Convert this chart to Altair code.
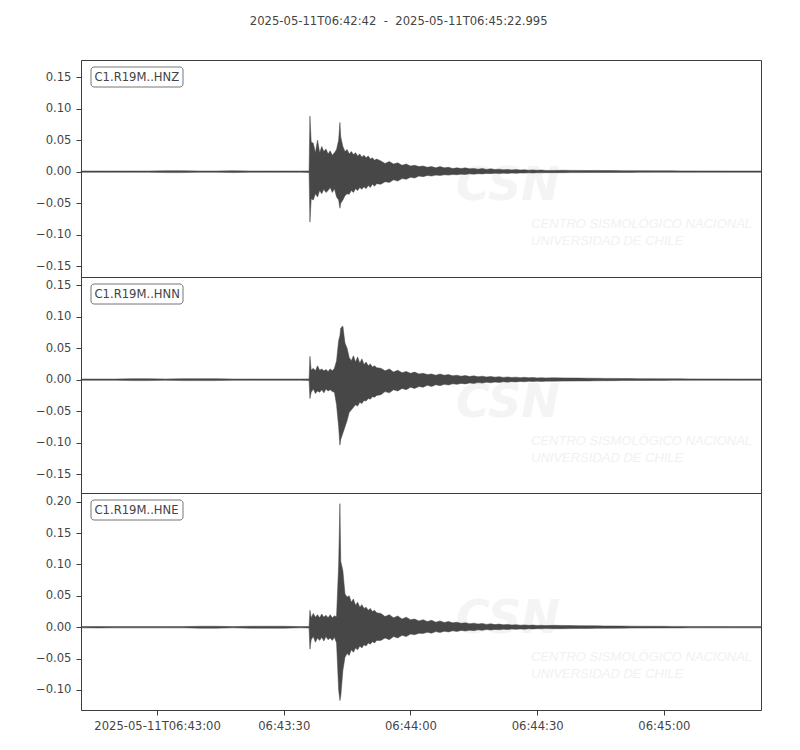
import pandas as pd
import altair as alt

TITLE = "2025-05-11T06:42:42\u00a0\u00a0-\u00a0\u00a02025-05-11T06:45:22.995"
CHANNELS = ["C1.R19M..HNZ", "C1.R19M..HNN", "C1.R19M..HNE"]
WATERMARK = ["CSN", "CENTRO SISMOLÓGICO NACIONAL", "UNIVERSIDAD DE CHILE"]

# seconds after 06:42:42, min/max envelope of each trace
T = [0, 4, 8, 12, 16, 20, 24, 28, 32, 36, 40, 44, 48, 52, 54,
     54.2, 54.5, 55, 55.5, 56, 56.5, 57, 57.5, 58, 58.5, 59, 59.5, 60, 60.5, 61,
     61.3, 61.5, 62, 62.5, 63, 63.5, 64, 64.5, 65, 65.5, 66, 66.5, 67, 67.5, 68, 68.5, 69, 69.5, 70,
     71, 72, 73, 74, 75, 76, 77, 78, 79, 80, 81, 82, 83, 84, 85, 86, 87, 88, 89, 90,
     91, 92, 93, 94, 95, 96, 97, 98, 99, 100, 101, 102, 103, 104, 105, 106, 107, 108, 109, 110,
     112, 114, 116, 118, 120, 122, 124, 126, 128, 130, 132, 134, 136, 138, 140, 142, 144, 146,
     148, 150, 152, 154, 156, 158, 160, 160.99]

HNZ_MAX = [0.001, 0.001, 0.001, 0.001, 0.001, 0.0015, 0.0015, 0.001, 0.001, 0.0015, 0.001, 0.001, 0.001, 0.001, 0.0012,
           0.088, 0.047, 0.045, 0.030, 0.050, 0.030, 0.040, 0.032, 0.036, 0.028, 0.033, 0.026, 0.030, 0.035, 0.050,
           0.078, 0.055, 0.040, 0.032, 0.035, 0.028, 0.032, 0.027, 0.030, 0.025, 0.028, 0.023, 0.026, 0.022, 0.025, 0.020, 0.022, 0.018, 0.020,
           0.017, 0.013, 0.016, 0.012, 0.014, 0.010, 0.012, 0.009, 0.010, 0.008,
           0.009, 0.007, 0.008, 0.006, 0.008, 0.006, 0.007, 0.005, 0.006, 0.005,
           0.006, 0.0045, 0.005, 0.004, 0.005, 0.0035, 0.0045, 0.0035, 0.004, 0.003,
           0.0035, 0.0028, 0.0033, 0.0026, 0.003, 0.0024, 0.0028, 0.0022, 0.0026, 0.002,
           0.002, 0.0022, 0.002, 0.002, 0.0018, 0.002, 0.0018, 0.0017, 0.0016, 0.0015,
           0.0015, 0.0014, 0.0014, 0.0013, 0.0013, 0.0012, 0.0012, 0.0012, 0.0011, 0.0011,
           0.0011, 0.001, 0.001, 0.001, 0.001, 0.001]
HNZ_MIN = [-0.001, -0.001, -0.001, -0.001, -0.001, -0.0015, -0.0015, -0.001, -0.001, -0.0015, -0.001, -0.001, -0.001, -0.001, -0.0012,
           -0.080, -0.043, -0.045, -0.035, -0.040, -0.030, -0.035, -0.028, -0.033, -0.030, -0.025, -0.033, -0.027, -0.040, -0.045,
           -0.058, -0.050, -0.045, -0.038, -0.035, -0.036, -0.030, -0.033, -0.027, -0.030, -0.025, -0.028, -0.024, -0.027, -0.022, -0.025, -0.020, -0.023, -0.019,
           -0.020, -0.016, -0.017, -0.013, -0.015, -0.011, -0.012, -0.009, -0.010, -0.007,
           -0.008, -0.006, -0.007, -0.0055, -0.006, -0.005, -0.0055, -0.0045, -0.005, -0.004,
           -0.0045, -0.0035, -0.004, -0.0032, -0.0036, -0.0028, -0.0032, -0.0026, -0.003, -0.0024,
           -0.0028, -0.0022, -0.0026, -0.002, -0.0023, -0.0019, -0.0021, -0.0017, -0.0019, -0.0016,
           -0.0016, -0.0016, -0.0015, -0.0015, -0.0014, -0.0014, -0.0013, -0.0013, -0.0012, -0.0012,
           -0.0011, -0.0011, -0.001, -0.001, -0.001, -0.001, -0.001, -0.001, -0.001, -0.001,
           -0.001, -0.001, -0.001, -0.001, -0.001, -0.001]

HNN_MAX = [0.001, 0.001, 0.001, 0.0015, 0.0015, 0.001, 0.0015, 0.0015, 0.0015, 0.001, 0.001, 0.001, 0.001, 0.001, 0.0012,
           0.037, 0.015, 0.018, 0.014, 0.022, 0.015, 0.017, 0.014, 0.016, 0.013, 0.017, 0.014, 0.018, 0.030, 0.062,
           0.070, 0.082, 0.085, 0.058, 0.050, 0.035, 0.030, 0.038, 0.028, 0.036, 0.026, 0.033, 0.024, 0.028, 0.022, 0.025, 0.020, 0.022, 0.019,
           0.018, 0.014, 0.017, 0.012, 0.015, 0.011, 0.013, 0.010, 0.012, 0.009,
           0.010, 0.008, 0.009, 0.007, 0.009, 0.007, 0.008, 0.006, 0.007, 0.0055,
           0.0065, 0.005, 0.006, 0.0045, 0.0055, 0.0042, 0.005, 0.004, 0.0047, 0.0036,
           0.0043, 0.0034, 0.004, 0.0032, 0.0037, 0.003, 0.0034, 0.0028, 0.0032, 0.0027,
           0.003, 0.0028, 0.0026, 0.0025, 0.0023, 0.0022, 0.002, 0.002, 0.0018, 0.0017,
           0.0016, 0.0015, 0.0015, 0.0014, 0.0013, 0.0013, 0.0012, 0.0012, 0.0011, 0.0011,
           0.0011, 0.001, 0.001, 0.001, 0.001, 0.001]
HNN_MIN = [-0.001, -0.001, -0.001, -0.0015, -0.0015, -0.001, -0.0015, -0.0015, -0.0015, -0.001, -0.001, -0.001, -0.001, -0.001, -0.0012,
           -0.030, -0.020, -0.015, -0.022, -0.018, -0.020, -0.016, -0.021, -0.015, -0.018, -0.016, -0.019, -0.020, -0.040, -0.075,
           -0.104, -0.095, -0.085, -0.075, -0.065, -0.052, -0.048, -0.044, -0.040, -0.042, -0.036, -0.038, -0.033, -0.034, -0.030, -0.031, -0.027, -0.028, -0.025,
           -0.024, -0.019, -0.021, -0.016, -0.018, -0.014, -0.016, -0.012, -0.014, -0.011,
           -0.012, -0.009, -0.011, -0.008, -0.0095, -0.0075, -0.0085, -0.0065, -0.0075, -0.006,
           -0.0068, -0.0052, -0.006, -0.0047, -0.0055, -0.0042, -0.005, -0.0038, -0.0045, -0.0035,
           -0.004, -0.0032, -0.0037, -0.0029, -0.0033, -0.0027, -0.003, -0.0025, -0.0028, -0.0024,
           -0.0024, -0.0023, -0.0022, -0.002, -0.002, -0.0018, -0.0017, -0.0016, -0.0015, -0.0014,
           -0.0013, -0.0013, -0.0012, -0.0012, -0.0011, -0.0011, -0.001, -0.001, -0.001, -0.001,
           -0.001, -0.001, -0.001, -0.001, -0.001, -0.001]

HNE_MAX = [0.001, 0.0012, 0.001, 0.001, 0.001, 0.001, 0.001, 0.0015, 0.0015, 0.001, 0.0015, 0.0015, 0.0015, 0.001, 0.0012,
           0.027, 0.015, 0.022, 0.016, 0.020, 0.015, 0.021, 0.016, 0.019, 0.015, 0.020, 0.015, 0.018, 0.017, 0.100,
           0.197, 0.105, 0.090, 0.053, 0.048, 0.050, 0.040, 0.045, 0.035, 0.040, 0.032, 0.036, 0.030, 0.032, 0.027, 0.030, 0.025, 0.027, 0.023,
           0.022, 0.017, 0.020, 0.015, 0.018, 0.013, 0.016, 0.012, 0.013, 0.010,
           0.012, 0.009, 0.011, 0.008, 0.010, 0.0075, 0.009, 0.007, 0.008, 0.0062,
           0.007, 0.0055, 0.0065, 0.005, 0.006, 0.0045, 0.0055, 0.0042, 0.005, 0.0038,
           0.0045, 0.0035, 0.0041, 0.0032, 0.0037, 0.003, 0.0034, 0.0028, 0.0031, 0.0026,
           0.003, 0.0028, 0.0026, 0.0025, 0.0023, 0.0022, 0.002, 0.002, 0.0018, 0.0017,
           0.0016, 0.0015, 0.0015, 0.0014, 0.0013, 0.0013, 0.0012, 0.0012, 0.0011, 0.0011,
           0.0011, 0.001, 0.001, 0.001, 0.001, 0.001]
HNE_MIN = [-0.001, -0.0012, -0.001, -0.001, -0.001, -0.001, -0.001, -0.0015, -0.0015, -0.001, -0.0015, -0.0015, -0.0015, -0.001, -0.0012,
           -0.035, -0.020, -0.015, -0.024, -0.017, -0.021, -0.016, -0.022, -0.015, -0.020, -0.017, -0.021, -0.016, -0.025, -0.100,
           -0.117, -0.110, -0.069, -0.048, -0.042, -0.045, -0.036, -0.040, -0.033, -0.036, -0.030, -0.033, -0.028, -0.030, -0.025, -0.027, -0.023, -0.025, -0.021,
           -0.021, -0.017, -0.020, -0.015, -0.017, -0.013, -0.015, -0.011, -0.012, -0.0095,
           -0.010, -0.008, -0.0095, -0.007, -0.0085, -0.0065, -0.0075, -0.0058, -0.0068, -0.0052,
           -0.006, -0.0047, -0.0055, -0.0042, -0.005, -0.0038, -0.0045, -0.0035, -0.0041, -0.0031,
           -0.0037, -0.0029, -0.0034, -0.0027, -0.0031, -0.0025, -0.0028, -0.0023, -0.0026, -0.0021,
           -0.0024, -0.0023, -0.0022, -0.002, -0.002, -0.0018, -0.0017, -0.0016, -0.0015, -0.0014,
           -0.0013, -0.0013, -0.0012, -0.0012, -0.0011, -0.0011, -0.001, -0.001, -0.001, -0.001,
           -0.001, -0.001, -0.001, -0.001, -0.001, -0.001]

X_DOMAIN = [0, 160.995]
X_TICKS = [18, 48, 78, 108, 138]
X_LABELS = ["2025-05-11T06:43:00", "06:43:30", "06:44:00", "06:44:30", "06:45:00"]
Y_TICKS = [[-0.15, -0.10, -0.05, 0.0, 0.05, 0.10, 0.15],
           [-0.15, -0.10, -0.05, 0.0, 0.05, 0.10, 0.15],
           [-0.10, -0.05, 0.0, 0.05, 0.10, 0.15, 0.20]]
Y_DOMAINS = [[-0.167, 0.177], [-0.180, 0.163], [-0.132, 0.214]]

TRACE = "#474747"
INK = "#444444"
FS = 11.6

label_expr = "''"
for v, lab in reversed(list(zip(X_TICKS, X_LABELS))):
    label_expr = f"datum.value == {v} ? '{lab}' : ({label_expr})"


def panel(name, hi, lo, domain, ticks, show_x, height):
    df = pd.DataFrame({"t": T, "hi": hi, "lo": lo})
    x_axis = alt.Axis(values=X_TICKS, labelExpr=label_expr, title=None) if show_x else None

    mark = alt.Chart(df).mark_area(
        color=TRACE, stroke=TRACE, strokeWidth=0.5, interpolate="linear"
    ).encode(
        x=alt.X("t:Q", scale=alt.Scale(domain=X_DOMAIN, nice=False, zero=False), axis=x_axis),
        y=alt.Y("hi:Q", scale=alt.Scale(domain=domain, nice=False, zero=False),
                axis=alt.Axis(values=ticks, format=".2f", title=None)),
        y2="lo:Q",
    )

    # faint CSN watermark behind the trace
    wm = pd.DataFrame({"w": WATERMARK})
    logo = alt.Chart(wm.iloc[[0]]).mark_text(
        align="left", baseline="alphabetic", font="DejaVu Sans", fontSize=46,
        fontWeight="bold", fontStyle="italic", color="#f4f4f4"
    ).encode(x=alt.value(375), y=alt.value(140), text="w:N")
    line1 = alt.Chart(wm.iloc[[1]]).mark_text(
        align="left", baseline="middle", font="Liberation Sans", fontSize=13,
        fontStyle="italic", color="#f1f1f1"
    ).encode(x=alt.value(450), y=alt.value(164), text="w:N")
    line2 = alt.Chart(wm.iloc[[2]]).mark_text(
        align="left", baseline="middle", font="Liberation Sans", fontSize=13,
        fontStyle="italic", color="#f1f1f1"
    ).encode(x=alt.value(450), y=alt.value(181), text="w:N")

    lab = pd.DataFrame({"name": [name]})
    box = alt.Chart(lab).mark_rect(
        fill="white", stroke="#777777", strokeWidth=1, cornerRadius=3
    ).encode(x=alt.value(10), x2=alt.value(102), y=alt.value(7), y2=alt.value(27))
    txt = alt.Chart(lab).mark_text(
        align="left", baseline="middle", font="DejaVu Sans", fontSize=FS, color=INK
    ).encode(x=alt.value(13.5), y=alt.value(17.5), text="name:N")

    return alt.layer(logo, line1, line2, mark, box, txt).properties(width=680, height=height)


p1 = panel(CHANNELS[0], HNZ_MAX, HNZ_MIN, Y_DOMAINS[0], Y_TICKS[0], False, 217)
p2 = panel(CHANNELS[1], HNN_MAX, HNN_MIN, Y_DOMAINS[1], Y_TICKS[1], False, 216)
p3 = panel(CHANNELS[2], HNE_MAX, HNE_MIN, Y_DOMAINS[2], Y_TICKS[2], True, 217)

chart = alt.vconcat(p1, p2, p3, spacing=0, bounds="flush").properties(
    title=alt.TitleParams(TITLE, offset=32),
    padding={"left": 26, "top": 7, "right": 10, "bottom": 5},
).configure_view(
    stroke="#3d3d3d", strokeWidth=1
).configure_axis(
    labelFont="DejaVu Sans", labelFontSize=FS, labelColor=INK,
    tickColor="#3d3d3d", tickSize=5, labelPadding=5, domain=False, grid=False
).configure_title(
    font="DejaVu Sans", fontSize=FS, color=INK, fontWeight="normal", anchor="middle"
)

chart.save("out.html", embed_options={"renderer": "svg", "actions": False})
